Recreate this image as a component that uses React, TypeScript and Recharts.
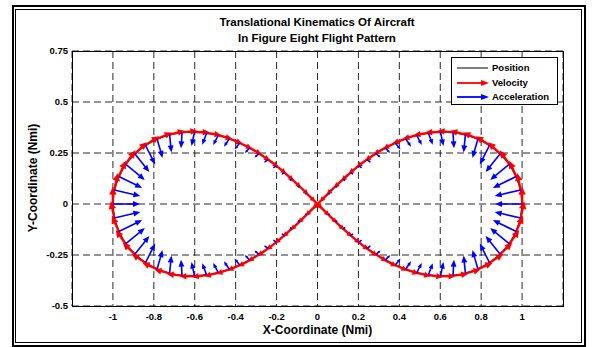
import React from "react"
import { ScatterChart, Scatter, XAxis, YAxis, CartesianGrid } from "recharts"

// Aircraft track: position, velocity and acceleration at each sample
const POS_X = [
  1.0, 0.993, 0.971, 0.938, 0.893, 0.841, 0.784, 0.723, 0.662, 0.601, 0.542, 0.485, 0.431, 0.38, 0.331, 0.286, 0.242, 0.201, 0.162, 0.125, 0.088, 0.053, 0.017,
  -0.017, -0.053, -0.088, -0.125, -0.162, -0.201, -0.242, -0.286, -0.331, -0.38, -0.431, -0.485, -0.542, -0.601, -0.662, -0.723, -0.784, -0.841, -0.893, -0.938, -0.971, -0.993,
  -1.0,
  -0.993, -0.971, -0.938, -0.893, -0.841, -0.784, -0.723, -0.662, -0.601, -0.542, -0.485, -0.431, -0.38, -0.331, -0.286, -0.242, -0.201, -0.162, -0.125, -0.088, -0.053, -0.017,
  0.017, 0.053, 0.088, 0.125, 0.162, 0.201, 0.242, 0.286, 0.331, 0.38, 0.431, 0.485, 0.542, 0.601, 0.662, 0.723, 0.784, 0.841, 0.893, 0.938, 0.971, 0.993,
]
const POS_Y = [
  0.0, 0.069, 0.135, 0.195, 0.246, 0.288, 0.319, 0.34, 0.351, 0.353, 0.348, 0.337, 0.32, 0.299, 0.275, 0.247, 0.218, 0.187, 0.154, 0.121, 0.087, 0.052, 0.017,
  -0.017, -0.052, -0.087, -0.121, -0.154, -0.187, -0.218, -0.247, -0.275, -0.299, -0.32, -0.337, -0.348, -0.353, -0.351, -0.34, -0.319, -0.288, -0.246, -0.195, -0.135, -0.069,
  0.0,
  0.069, 0.135, 0.195, 0.246, 0.288, 0.319, 0.34, 0.351, 0.353, 0.348, 0.337, 0.32, 0.299, 0.275, 0.247, 0.218, 0.187, 0.154, 0.121, 0.087, 0.052, 0.017,
  -0.017, -0.052, -0.087, -0.121, -0.154, -0.187, -0.218, -0.247, -0.275, -0.299, -0.32, -0.337, -0.348, -0.353, -0.351, -0.34, -0.319, -0.288, -0.246, -0.195, -0.135, -0.069,
]
const VEL_X = [
  0.0, -0.207, -0.399, -0.565, -0.696, -0.79, -0.849, -0.876, -0.878, -0.862, -0.833, -0.796, -0.755, -0.713, -0.673, -0.636, -0.603, -0.574, -0.549, -0.53, -0.515, -0.506, -0.501,
  -0.501, -0.506, -0.515, -0.53, -0.549, -0.574, -0.603, -0.636, -0.673, -0.713, -0.755, -0.796, -0.833, -0.862, -0.878, -0.876, -0.849, -0.79, -0.696, -0.565, -0.399, -0.207,
  0.0,
  0.207, 0.399, 0.565, 0.696, 0.79, 0.849, 0.876, 0.878, 0.862, 0.833, 0.796, 0.755, 0.713, 0.673, 0.636, 0.603, 0.574, 0.549, 0.53, 0.515, 0.506, 0.501,
  0.501, 0.506, 0.515, 0.53, 0.549, 0.574, 0.603, 0.636, 0.673, 0.713, 0.755, 0.796, 0.833, 0.862, 0.878, 0.876, 0.849, 0.79, 0.696, 0.565, 0.399, 0.207,
]
const VEL_Y = [
  1.0, 0.976, 0.906, 0.8, 0.667, 0.52, 0.371, 0.227, 0.096, -0.02, -0.12, -0.204, -0.273, -0.328, -0.373, -0.408, -0.436, -0.457, -0.472, -0.484, -0.492, -0.497, -0.5,
  -0.5, -0.497, -0.492, -0.484, -0.472, -0.457, -0.436, -0.408, -0.373, -0.328, -0.273, -0.204, -0.12, -0.02, 0.096, 0.227, 0.371, 0.52, 0.667, 0.8, 0.906, 0.976,
  1.0,
  0.976, 0.906, 0.8, 0.667, 0.52, 0.371, 0.227, 0.096, -0.02, -0.12, -0.204, -0.273, -0.328, -0.373, -0.408, -0.436, -0.457, -0.472, -0.484, -0.492, -0.497, -0.5,
  -0.5, -0.497, -0.492, -0.484, -0.472, -0.457, -0.436, -0.408, -0.373, -0.328, -0.273, -0.204, -0.12, -0.02, 0.096, 0.227, 0.371, 0.52, 0.667, 0.8, 0.906, 0.976,
]
const ACC_X = [
  -3.0, -2.892, -2.588, -2.139, -1.616, -1.086, -0.601, -0.196, 0.117, 0.341, 0.485, 0.565, 0.594, 0.588, 0.556, 0.507, 0.448, 0.383, 0.315, 0.245, 0.175, 0.105, 0.035,
  -0.035, -0.105, -0.175, -0.245, -0.315, -0.383, -0.448, -0.507, -0.556, -0.588, -0.594, -0.565, -0.485, -0.341, -0.117, 0.196, 0.601, 1.086, 1.616, 2.139, 2.588, 2.892,
  3.0,
  2.892, 2.588, 2.139, 1.616, 1.086, 0.601, 0.196, -0.117, -0.341, -0.485, -0.565, -0.594, -0.588, -0.556, -0.507, -0.448, -0.383, -0.315, -0.245, -0.175, -0.105, -0.035,
  0.035, 0.105, 0.175, 0.245, 0.315, 0.383, 0.448, 0.507, 0.556, 0.588, 0.594, 0.565, 0.485, 0.341, 0.117, -0.196, -0.601, -1.086, -1.616, -2.139, -2.588, -2.892,
]
const ACC_Y = [
  0.0, -0.684, -1.286, -1.745, -2.03, -2.144, -2.114, -1.979, -1.778, -1.548, -1.312, -1.089, -0.889, -0.715, -0.567, -0.444, -0.344, -0.261, -0.195, -0.14, -0.094, -0.054, -0.018,
  0.018, 0.054, 0.094, 0.14, 0.195, 0.261, 0.344, 0.444, 0.567, 0.715, 0.889, 1.089, 1.312, 1.548, 1.778, 1.979, 2.114, 2.144, 2.03, 1.745, 1.286, 0.684,
  0.0,
  -0.684, -1.286, -1.745, -2.03, -2.144, -2.114, -1.979, -1.778, -1.548, -1.312, -1.089, -0.889, -0.715, -0.567, -0.444, -0.344, -0.261, -0.195, -0.14, -0.094, -0.054, -0.018,
  0.018, 0.054, 0.094, 0.14, 0.195, 0.261, 0.344, 0.444, 0.567, 0.715, 0.889, 1.089, 1.312, 1.548, 1.778, 1.979, 2.114, 2.144, 2.03, 1.745, 1.286, 0.684,
]

const X_TICKS = [-1, -0.8, -0.6, -0.4, -0.2, 0, 0.2, 0.4, 0.6, 0.8, 1]
const Y_TICKS = [-0.5, -0.25, 0, 0.25, 0.5, 0.75]
const X_DOMAIN = [-1.2, 1.2]
const Y_DOMAIN = [-0.5, 0.75]

// layout
const W = 595
const H = 347
const PLOT_LEFT = 72
const PLOT_TOP = 51
const PLOT_W = 491
const PLOT_H = 255
const Y_AXIS_W = 40
const X_AXIS_H = 20
const PX_X = PLOT_W / (X_DOMAIN[1] - X_DOMAIN[0])
const PX_Y = PLOT_H / (Y_DOMAIN[1] - Y_DOMAIN[0])

const VEL_SCALE = 0.085
const ACC_SCALE = 0.044

const FONT = "'Liberation Sans', Arial, Helvetica, sans-serif"

const track = POS_X.map((x, i) => ({ x, y: POS_Y[i] }))
const trackClosed = [...track, track[0]]
const velData = POS_X.map((x, i) => ({ x, y: POS_Y[i], u: VEL_X[i], v: VEL_Y[i] }))
const accData = POS_X.map((x, i) => ({ x, y: POS_Y[i], u: ACC_X[i], v: ACC_Y[i] }))

function arrowShape(color: string, scale: number, width: number, head: number, spread: number) {
  return (props: any) => {
    const { cx, cy } = props
    const p = props.payload ?? props
    const dx = p.u * scale * PX_X
    const dy = -p.v * scale * PX_Y
    const len = Math.hypot(dx, dy)
    if (!len || len < 0.4) return <g />
    const ux = dx / len
    const uy = dy / len
    const hl = Math.min(head, len * 0.45)
    const hw = hl * spread
    const tx = cx + dx
    const ty = cy + dy
    const bx = tx - ux * hl
    const by = ty - uy * hl
    return (
      <g>
        <line x1={cx} y1={cy} x2={bx + ux * 1} y2={by + uy * 1} stroke={color} strokeWidth={width} />
        <polygon
          points={`${tx},${ty} ${bx - uy * hw},${by + ux * hw} ${bx + uy * hw},${by - ux * hw}`}
          fill={color}
        />
      </g>
    )
  }
}

function LegendBox() {
  const rows = [
    { label: "Position", color: "#000", arrow: false },
    { label: "Velocity", color: "#ff0000", arrow: true },
    { label: "Acceleration", color: "#0000ff", arrow: true },
  ]
  return (
    <div
      style={{
        position: "absolute",
        left: 451,
        top: 57,
        width: 107,
        height: 48,
        boxSizing: "border-box",
        border: "1px solid #000",
        background: "#fff",
      }}
    >
      {rows.map((r, i) => (
        <div
          key={r.label}
          style={{ position: "absolute", left: 0, top: 3 + i * 14.5, height: 14, width: 105, display: "flex", alignItems: "center" }}
        >
          <svg width={40} height={14} style={{ display: "block" }}>
            <line x1={5} y1={7} x2={r.arrow ? 30 : 36} y2={7} stroke={r.color} strokeWidth={r.arrow ? 1.8 : 1} />
            {r.arrow && <polygon points="37,7 29,4 29,10" fill={r.color} />}
          </svg>
          <span style={{ fontSize: 9.5, fontWeight: "bold", lineHeight: "14px" }}>{r.label}</span>
        </div>
      ))}
    </div>
  )
}

export default function App() {
  return (
    <div
      style={{
        position: "absolute",
        left: 0,
        top: 0,
        width: W,
        height: H,
        background: "#fff",
        fontFamily: FONT,
        color: "#000",
        overflow: "hidden",
      }}
    >
      {/* double frame */}
      <div style={{ position: "absolute", left: 12, top: 5, width: 574, height: 342, boxSizing: "border-box", border: "2px solid #000" }} />
      <div style={{ position: "absolute", left: 15, top: 9, width: 567, height: 334, boxSizing: "border-box", border: "1px solid #000" }} />

      <div
        style={{
          position: "absolute",
          left: 117,
          top: 14,
          width: 400,
          textAlign: "center",
          fontSize: 11.5,
          fontWeight: "bold",
          lineHeight: "16px",
        }}
      >
        <div>Translational Kinematics Of Aircraft</div>
        <div>In Figure Eight Flight Pattern</div>
      </div>

      <div style={{ position: "absolute", left: PLOT_LEFT, top: 322, width: PLOT_W, textAlign: "center", fontSize: 12, fontWeight: "bold", lineHeight: "16px" }}>
        X-Coordinate (Nmi)
      </div>
      <div
        style={{
          position: "absolute",
          left: 33 - 100,
          top: 178 - 8,
          width: 200,
          height: 16,
          textAlign: "center",
          fontSize: 12,
          fontWeight: "bold",
          lineHeight: "16px",
          transform: "rotate(-90deg)",
        }}
      >
        Y-Coordinate (Nmi)
      </div>

      <div style={{ position: "absolute", left: 0, top: 0 }}>
        <ScatterChart
          width={W}
          height={H}
          margin={{
            top: PLOT_TOP,
            left: PLOT_LEFT - Y_AXIS_W,
            right: W - PLOT_LEFT - PLOT_W,
            bottom: H - PLOT_TOP - PLOT_H - X_AXIS_H,
          }}
        >
          <CartesianGrid stroke="#2a2a2a" strokeDasharray="7 4" />
          <XAxis
            type="number"
            dataKey="x"
            domain={X_DOMAIN}
            ticks={X_TICKS}
            interval={0}
            height={X_AXIS_H}
            allowDataOverflow
            axisLine={false}
            tickLine={false}
            tickSize={0}
            tickMargin={7}
            tick={{ fontSize: 9.5, fontWeight: "bold", fill: "#000" }}
          />
          <YAxis
            type="number"
            dataKey="y"
            domain={Y_DOMAIN}
            ticks={Y_TICKS}
            interval={0}
            width={Y_AXIS_W}
            allowDataOverflow
            axisLine={false}
            tickLine={false}
            tickSize={0}
            tickMargin={4}
            tick={{ fontSize: 9.5, fontWeight: "bold", fill: "#000" }}
          />
          <Scatter data={trackClosed} line={{ stroke: "#000", strokeWidth: 1.2 }} shape={() => <g />} isAnimationActive={false} />
          <Scatter data={velData} shape={arrowShape("#ff0000", VEL_SCALE, 2.4, 8, 0.48)} isAnimationActive={false} />
          <Scatter data={accData} shape={arrowShape("#0000ff", ACC_SCALE, 1.6, 7, 0.42)} isAnimationActive={false} />
        </ScatterChart>
      </div>

      {/* axes box */}
      <div
        style={{
          position: "absolute",
          left: PLOT_LEFT,
          top: PLOT_TOP,
          width: PLOT_W + 1,
          height: PLOT_H + 1,
          boxSizing: "border-box",
          border: "1px solid #000",
          pointerEvents: "none",
        }}
      />

      <LegendBox />
    </div>
  )
}
